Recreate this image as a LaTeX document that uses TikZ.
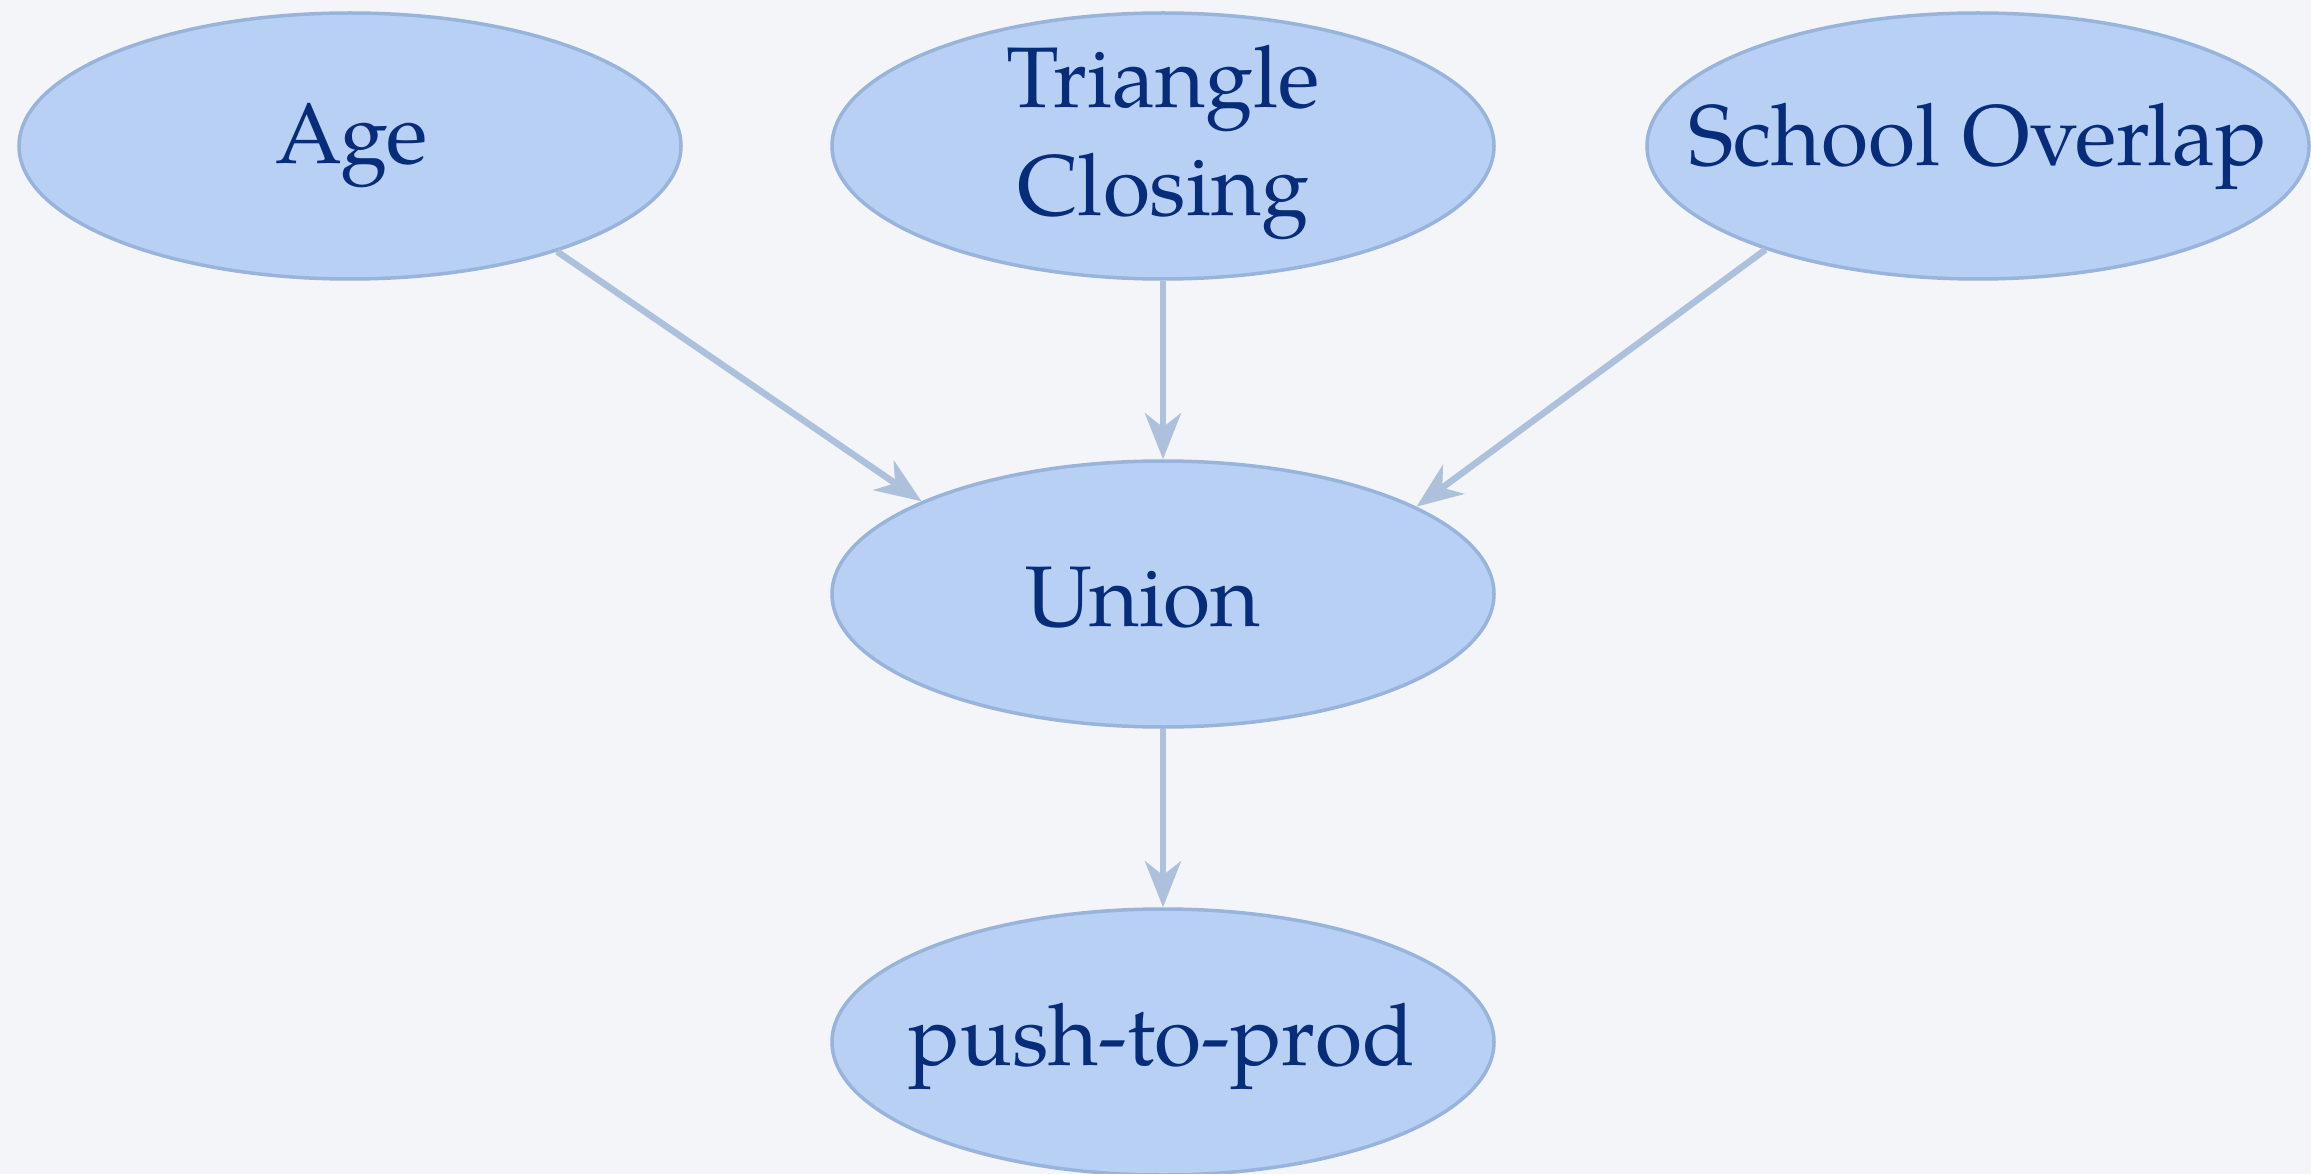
\documentclass[tikz,border=0pt]{standalone}
\usepackage{fontspec}
\setmainfont{TeX Gyre Pagella}
\usetikzlibrary{arrows.meta,shapes.geometric}
\definecolor{bgc}{HTML}{F3F5F8}
\definecolor{fillc}{HTML}{B8D0F3}
\definecolor{edgec}{HTML}{98B3DC}
\definecolor{textc}{HTML}{072C7A}
\definecolor{arrc}{HTML}{ADC0DC}
\begin{document}
\begin{tikzpicture}[x=1pt,y=-1pt,
  bubble/.style={ellipse, draw=edgec, line width=3.5pt, fill=fillc,
    minimum width=662pt, minimum height=266pt, inner sep=0pt},
  lbl/.style={text=textc, inner sep=0pt, align=center,
    font=\fontsize{86}{108}\selectfont},
  link/.style={draw=arrc, line width=6.5pt,
    -{Stealth[length=46pt, width=36pt, inset=14pt]}}]
\fill[bgc] (0,0) rectangle (2311,1174);
\useasboundingbox (0,0) rectangle (2311,1174);
\node[bubble] (age) at (350,146) {};
\node[bubble] (tri) at (1163,146) {};
\node[bubble] (school) at (1978,146) {};
\node[bubble] (union) at (1163,594) {};
\node[bubble] (push) at (1163,1042) {};
\node[lbl] (agetxt) at (352,146) {Age};
\node[lbl] (tritxt) at (1163,142) {Triangle\\Closing};
\node[lbl] (schooltxt) at (1978,146) {School Overlap};
\node[lbl] (uniontxt) at (1143,598) {Union};
\node[lbl] (pushtxt) at (1162,1046) {push-to-prod};
\draw[link] (age.-27) -- (union.159);
\draw[link] (tri.south) -- (union.north);
\draw[link] (school.-154) -- (union.19);
\draw[link] (union.south) -- (push.north);
\end{tikzpicture}
\end{document}
